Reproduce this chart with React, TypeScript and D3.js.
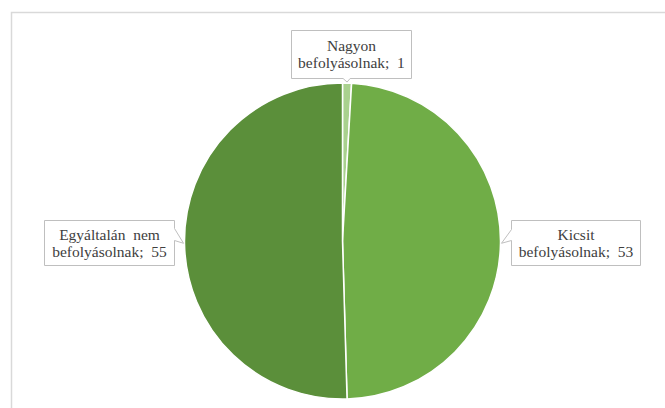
import React from "react";
import * as d3 from "d3";

const categories = ["Nagyon befolyásolnak", "Kicsit befolyásolnak", "Egyáltalán nem befolyásolnak"];
const values = [1, 53, 55];
const labelLines = [
  ["Nagyon", "befolyásolnak;  1"],
  ["Kicsit", "befolyásolnak;  53"],
  ["Egyáltalán  nem", "befolyásolnak;  55"],
];
const colors = ["#A9D18E", "#70AD47", "#5B8F3A"];

const W = 665;
const H = 408;
const cx = 342.5;
const cy = 241;
const R = 158;

const FONT = "Liberation Serif, Times New Roman, serif";

// callout boxes: x, y, w, h, tail side
const boxes = [
  { x: 291.5, y: 30.5, w: 120, h: 48, side: "bottom" },
  { x: 511.5, y: 220.5, w: 129, h: 45, side: "left" },
  { x: 44.5, y: 220.5, w: 130, h: 45, side: "right" },
];

function calloutPath(b: any, tip: [number, number]) {
  const { x, y, w, h, side } = b;
  const r = x + w;
  const bt = y + h;
  if (side === "bottom") {
    const a = tip[0] - 4;
    const c = tip[0] + 3;
    return `M${x},${y}H${r}V${bt}H${c}L${tip[0]},${tip[1]}L${a},${bt}H${x}Z`;
  }
  if (side === "left") {
    return `M${x},${y}H${r}V${bt}H${x}V${y + 20}L${tip[0]},${tip[1]}L${x},${y + 9}Z`;
  }
  return `M${x},${y}H${r}V${y + 8}L${tip[0]},${tip[1]}L${r},${y + 20}V${bt}H${x}Z`;
}

export default function App() {
  const pie = d3.pie<number>().sort(null).value((d) => d).startAngle(0);
  const arcs = pie(values);
  const arc = d3.arc<d3.PieArcDatum<number>>().innerRadius(0).outerRadius(R);

  return (
    <svg
      width={W}
      height={H}
      style={{ position: "absolute", left: 0, top: 0, background: "#fff" }}
    >
      <rect x={11.5} y={12.5} width={W + 20} height={H + 20} fill="#fff" stroke="#d9d9d9" strokeWidth={1.5} />
      <g transform={`translate(${cx},${cy})`}>
        {arcs.map((a, i) => (
          <path key={categories[i]} d={arc(a) || ""} fill={colors[i]} stroke="#fff" strokeWidth={1.5} />
        ))}
      </g>
      {arcs.map((a, i) => {
        const mid = (a.startAngle + a.endAngle) / 2;
        const tip: [number, number] = [cx + (R + 1) * Math.sin(mid), cy - (R + 1) * Math.cos(mid)];
        const b = boxes[i];
        const tx = b.x + b.w / 2;
        const ty0 = b.y + b.h / 2 - 8.5 + 5;
        return (
          <g key={"lbl" + i}>
            <path d={calloutPath(b, tip)} fill="#fff" stroke="#BFBFBF" strokeWidth={1} />
            {labelLines[i].map((t, j) => (
              <text
                key={j}
                x={tx}
                y={ty0 + j * 17}
                textAnchor="middle"
                fill="#404040"
                style={{ whiteSpace: "pre", fontFamily: FONT, fontSize: "15.5px" }}
              >
                {t}
              </text>
            ))}
          </g>
        );
      })}
    </svg>
  );
}
